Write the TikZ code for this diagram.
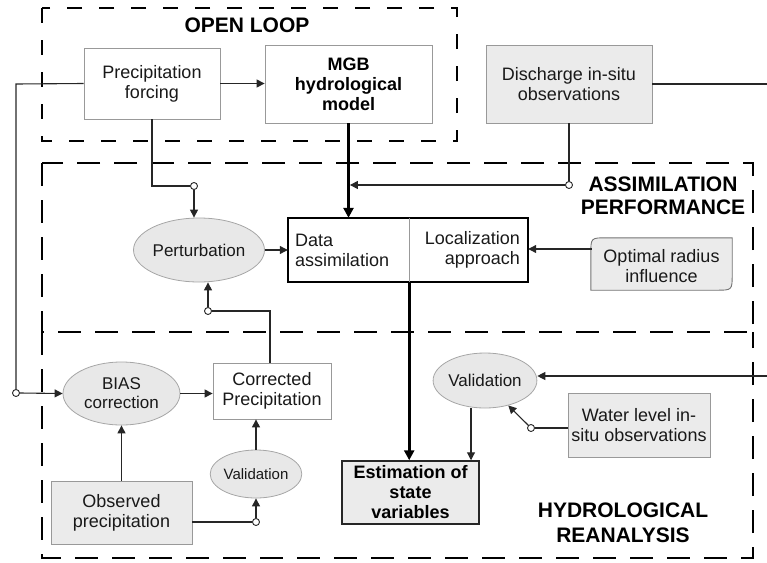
\documentclass[tikz,border=0pt]{standalone}
\usepackage{fontspec}
\setmainfont{Liberation Sans}
\usetikzlibrary{shapes.geometric,arrows.meta,calc}
\begin{document}
\begin{tikzpicture}[x=1pt,y=-1pt,
  txt/.style={font=\fontsize{18}{20}\selectfont, text=black!90, align=center},
  wbox/.style={txt, draw=black!40, fill=white, line width=0.8pt, inner sep=0pt},
  gbox/.style={txt, draw=black!40, fill=black!8, line width=0.8pt, inner sep=0pt},
  gell/.style={ellipse, txt, draw=black!35, fill=black!9, line width=0.8pt, inner sep=0pt, font=\fontsize{17}{19}\selectfont},
  region/.style={draw=black, line width=2.8pt, dash pattern=on 23pt off 14pt},
  olregion/.style={draw=black, line width=2.8pt, dash pattern=on 15pt off 17pt},
  conn/.style={draw=black!85, line width=1.1pt},
  arr/.style={conn, -{Triangle[length=8pt,width=8pt]}},
  tarr/.style={draw=black, line width=2.8pt, -{Triangle[length=10pt,width=10pt]}},
  dot/.style={circle, draw=black!85, fill=white, line width=0.9pt, minimum size=7pt, inner sep=0pt},
  ttl/.style={font=\fontsize{21}{24}\selectfont\bfseries, text=black, align=center}
]
\useasboundingbox (0,0) rectangle (767,562);

% regions
\draw[olregion] (42,8) rectangle (457,141);
\draw[region] (42,163) rectangle (753,332);
\draw[region] (42,332) -- (42,558) -- (753,558) -- (753,332);

% titles
\node[ttl] (tol) at (247,25) {OPEN LOOP};
\node[ttl, font=\fontsize{21}{23}\selectfont\bfseries] (tap) at (663,196) {ASSIMILATION\\PERFORMANCE};
\node[ttl, font=\fontsize{21}{25}\selectfont\bfseries] (thr) at (623,523) {HYDROLOGICAL\\REANALYSIS};

% nodes
\node[wbox, minimum width=136pt, minimum height=71pt] (pf) at (152,83.5) {Precipitation\\forcing};
\node[wbox, minimum width=167pt, minimum height=78pt, font=\fontsize{18}{20}\selectfont\bfseries, text=black] (mgb) at (348.5,84) {MGB\\hydrological\\model};
\node[gbox, minimum width=166pt, minimum height=78pt] (dis) at (569,84) {Discharge in-situ\\observations};
\node[gell, minimum width=118pt, minimum height=64pt] (pert) at (199,250) {Perturbation};
\node[txt, minimum width=121pt, minimum height=64pt, inner sep=0pt, text width=107pt, align=left] (da) at (348.5,250) {Data\\assimilation};
\node[txt, minimum width=119pt, minimum height=64pt, inner sep=0pt, text width=103pt, align=right] (loc) at (468.5,250) {Localization\\approach};
\draw[black, line width=2pt] (da.north west) rectangle (loc.south east);
\draw[black!40, line width=0.8pt] (da.north east) -- (da.south east);

\path node[minimum width=141pt, minimum height=52pt, inner sep=0pt] (opt) at (661.5,264) {};
\draw[draw=black!55, fill=black!8, line width=0.9pt]
  (opt.south west) -- ([yshift=-16pt]opt.north west) .. controls (opt.north west) .. ([xshift=16pt]opt.north west)
  -- (opt.north east) -- ([yshift=16pt]opt.south east) .. controls (opt.south east) .. ([xshift=-16pt]opt.south east) -- cycle;
\node[txt] (optt) at ([yshift=-2pt]opt.center) {Optimal radius\\influence};

\node[wbox, minimum width=118pt, minimum height=56pt] (cp) at (272,391) {Corrected\\Precipitation};
\node[gell, minimum width=117pt, minimum height=63pt] (bias) at (121.5,393.5) {BIAS\\correction};
\node[gbox, minimum width=141pt, minimum height=63pt] (obs) at (121.5,512.5) {Observed\\precipitation};
\node[gell, minimum width=88pt, minimum height=48pt, font=\fontsize{15}{17}\selectfont] (val1) at (256,474) {Validation};
\node[gbox, draw=black!85, line width=1.5pt, font=\fontsize{18}{20}\selectfont\bfseries, text=black, minimum width=137pt, minimum height=63pt] (est) at (410.5,492.5) {Estimation of\\state\\variables};
\node[gell, minimum width=102pt, minimum height=55pt] (val2) at (485,380.5) {Validation};
\node[gbox, minimum width=142pt, minimum height=64pt] (wl) at (639,425) {Water level in-\\situ observations};

% connectors
\coordinate (pL) at (16,84);
\node[dot] (d1) at (16,393) {};
\draw[conn] (pf.west) -- (pL) -- (d1.north);
\draw[arr] (d1.east) -- (bias.west);
\draw[arr] (pf.east) -- (pf.east -| mgb.west);

\node[dot] (d2) at (194,186) {};
\draw[conn] (pf.south) -- (pf.south |- d2) -- (d2.west);
\draw[arr] (d2.south) -- (d2 |- pert.north);

\draw[tarr] (mgb.south) -- (da.north);

\node[dot] (d3) at (569,185) {};
\draw[conn] (dis.south) -- (d3.north);
\draw[arr] (d3.west) -- ([xshift=1.4pt]mgb.south |- d3);

\coordinate (rE1) at (767,84);
\draw[conn] (dis.east) -- (rE1);

\draw[arr] (pert.east) -- (da.west);
\draw[arr] ([xshift=1pt,yshift=15pt]opt.west) -- ([yshift=15pt]opt.west -| loc.east);

\draw[tarr] (da.south east) -- (da.south east |- est.north);

\node[dot] (d4) at (208,311) {};
\draw[conn] ([xshift=-2pt]cp.north) -- ([xshift=-2pt]cp.north |- d4) -- (d4.east);
\draw[arr] (d4.north) -- (d4 |- pert.south);

\draw[arr] (bias.east) -- (bias.east -| cp.west);
\draw[arr] (obs.north) -- (bias.south);
\node[dot] (d5) at (256,522) {};
\draw[conn] ([yshift=-9.5pt]obs.east) -- (d5.west);
\draw[arr] (d5.north) -- (val1.south);
\draw[arr] (val1.north) -- (val1.north |- cp.south);

\coordinate (rE2) at (767,376);
\draw[arr] (rE2) -- (rE2 -| val2.east);
\draw[arr] ([xshift=-14pt]val2.south) -- ([xshift=-14pt]val2.south |- est.north);

\node[dot] (d6) at (531,428) {};
\draw[conn] ([yshift=-3pt]wl.west) -- (d6.east);
\draw[arr] (d6.north west) -- (val2.-47);
\end{tikzpicture}
\end{document}
